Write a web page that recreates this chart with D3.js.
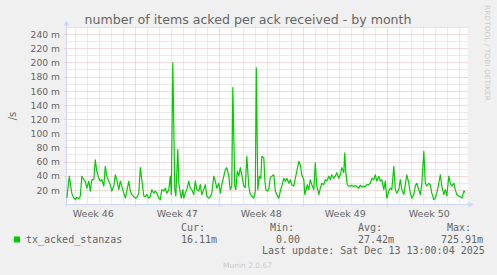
<!DOCTYPE html>
<html><head><meta charset="utf-8">
<script src="https://cdn.jsdelivr.net/npm/d3@7"></script>
<style>html,body{margin:0;padding:0;background:#f0f0f0}svg{display:block}</style>
</head><body><svg id="c" width="497" height="275"></svg>
<script>
// ---------- data ----------
const chartTitle = "number of items acked per ack received - by month";
const yAxisLabel = "/s";
const seriesName = "tx_acked_stanzas";
const yTickValues = [20, 40, 60, 80, 100, 120, 140, 160, 180, 200, 220, 240]; // milli per second
const yTickUnit = " m";
const weekLabelPrefix = "Week ";
const legendStats = [["Cur:", "16.11m"], ["Min:", "0.00"], ["Avg:", "27.42m"], ["Max:", "725.91m"]];
const lastUpdate = "Last update: Sat Dec 13 13:00:04 2025";
const watermark = "RRDTOOL / TOBI OETIKER";
const footer = "Munin 2.0.67";
// sample times: hours since 2025-11-11 00:00 UTC
const sampleHours = [
  7,12,17,21,24,27,31,34,37,41,44,47,51,54,57,61,64,67,71,74,77,81,84,87,91,94,97,101,104,107,
  111,114,117,121,124,127,131,134,137,141,144,147,151,154,157,161,164,167,171,174,177,181,184,187,191,194,197,
  201,204,207,211,214,216,219,223,225,229,231,234,236,239,241,244,247,251,254,257,261,264,267,271,274,277,
  281,284,287,291,294,297,301,304,307,311,314,317,321,324,327,331,334,337,339,343,345,348,351,354,357,361,
  364,367,371,374,377,381,384,386,389,392,395,397,401,403,405,408,411,414,417,421,424,427,431,434,437,441,
  444,447,451,454,457,461,464,467,471,474,477,481,483,485,488,491,494,497,501,504,507,511,514,517,521,524,
  527,531,534,537,541,544,547,551,554,557,561,563,565,568,571,574,577,581,584,587,591,594,597,601,604,607,
  611,614,617,621,624,627,631,634,637,641,644,647,651,654,657,661,664,667,671,674,677,681,684,687,691,694,
  697,701,704,707,711,714,717,721,724,727,731,734,737,741,744,747,751,754,757,761,764,767,771,774,777,781,
  784,787,791,794,797,801,804
];
// values in milli-items per second
const sampleValues = [
  9,40,16,9,7,10,8,12,40,35,33,23,33,19,35,35,63,47,37,33,35,26,54,40,33,28,19,26,42,35,
  21,33,26,16,9,19,33,19,14,11,9,10,16,52,35,12,11,14,9,11,21,16,19,16,9,7,21,
  19,23,16,21,40,14,200,21,12,78,30,16,9,21,9,16,21,33,23,21,14,33,21,19,28,14,
  21,28,12,9,11,16,40,33,23,30,16,28,40,49,52,40,21,26,165,26,21,47,40,52,42,26,
  24,68,26,14,12,9,19,193,21,40,37,68,66,35,21,19,21,38,40,42,19,14,9,19,26,37,
  33,37,30,35,28,26,37,47,61,56,42,35,14,19,28,21,35,28,21,59,26,14,23,30,28,35,
  33,40,35,42,37,40,45,37,42,52,45,73,45,28,26,26,27,25,27,25,23,27,25,26,25,28,
  28,30,37,35,42,33,40,33,35,21,33,9,19,23,21,54,21,16,21,35,21,14,28,42,30,16,
  9,14,26,30,21,14,28,75,30,26,30,28,16,7,9,16,30,42,26,14,21,12,40,30,26,30,
  21,14,12,11,9,19,17
];

// ---------- layout ----------
const W = 497, H = 275;
const plotLeft = 66.5, plotRight = 466.5, plotTop = 27.5, plotBottom = 204.5;
const base = Date.UTC(2025, 10, 11, 0, 0, 0);
const HOUR = 3600e3;
const svg = d3.select("#c");
const fontSans = "'DejaVu Sans', sans-serif";
const fontMono = "'DejaVu Sans Mono', monospace";
const textColor = "#666666";

const x = d3.scaleUtc()
  .domain([new Date(base + 6.4 * HOUR), new Date(base + 806.4 * HOUR)])
  .range([plotLeft, plotRight]);
const y = d3.scaleLinear().domain([0, 250]).range([plotBottom, plotTop]);

const data = sampleHours.map((h, i) => ({ t: new Date(base + h * HOUR), v: sampleValues[i] }));

svg.append("rect").attr("width", W).attr("height", H).attr("fill", "#f0f0f0");
svg.append("rect").attr("x", plotLeft).attr("y", plotTop)
  .attr("width", plotRight - plotLeft + 1).attr("height", plotBottom - plotTop).attr("fill", "#ffffff");

const crisp = v => Math.floor(v) + 0.5;
const grid = svg.append("g");
const [d0, d1] = x.domain();
const days = d3.utcDay.range(d0, d1);
const mondays = d3.utcMonday.range(d0, d1);
const isMonday = d => d.getUTCDay() === 1;
const minorColor = "#d4d4d4", majorColor = "#e8b4b4";

// minor horizontal grid
const minorY = d3.range(10, 251, 10).filter(v => v % 20 !== 0);
grid.selectAll(".hmin").data(minorY).join("line")
  .attr("x1", plotLeft).attr("x2", plotRight + 2)
  .attr("y1", d => crisp(y(d))).attr("y2", d => crisp(y(d)))
  .attr("stroke", minorColor).attr("stroke-dasharray", "1,1");
// minor vertical grid (days)
grid.selectAll(".vmin").data(days.filter(d => !isMonday(d))).join("line")
  .attr("x1", d => crisp(x(d))).attr("x2", d => crisp(x(d)))
  .attr("y1", plotTop).attr("y2", plotBottom)
  .attr("stroke", minorColor).attr("stroke-dasharray", "1,1");
// major horizontal grid
grid.selectAll(".hmaj").data(yTickValues).join("line")
  .attr("x1", plotLeft - 2).attr("x2", plotRight + 2)
  .attr("y1", d => crisp(y(d))).attr("y2", d => crisp(y(d)))
  .attr("stroke", majorColor).attr("stroke-dasharray", "1,1");
// major vertical grid (weeks)
grid.selectAll(".vmaj").data(mondays).join("line")
  .attr("x1", d => crisp(x(d))).attr("x2", d => crisp(x(d)))
  .attr("y1", plotTop).attr("y2", plotBottom + 2)
  .attr("stroke", majorColor).attr("stroke-dasharray", "1,1");

// y tick labels
svg.append("g").selectAll("text").data(yTickValues).join("text")
  .attr("x", 60).attr("y", d => y(d) + 3.3)
  .attr("text-anchor", "end").attr("font-family", fontSans).attr("font-size", 9.2)
  .attr("fill", textColor).text(d => d + yTickUnit);

// x labels: centred mid-week
const weekMids = d3.utcMonday.range(d3.utcMonday.offset(d0, -1), d1)
  .map(m => new Date(+m + 3.5 * 24 * HOUR))
  .filter(m => m >= d0 && m <= d1);
const fmtWeek = d3.utcFormat("%V");
svg.append("g").selectAll("text").data(weekMids).join("text")
  .attr("x", d => x(d)).attr("y", 216.5).attr("text-anchor", "middle")
  .attr("font-family", fontSans).attr("font-size", 9.5).attr("fill", textColor)
  .text(d => weekLabelPrefix + fmtWeek(d));

// axes
const axisColor = "#cfd6f8";
svg.append("line").attr("x1", plotLeft - 2).attr("x2", plotRight + 3)
  .attr("y1", crisp(plotBottom)).attr("y2", crisp(plotBottom)).attr("stroke", axisColor);
svg.append("line").attr("x1", crisp(plotLeft)).attr("x2", crisp(plotLeft))
  .attr("y1", plotBottom + 2).attr("y2", plotTop - 3).attr("stroke", axisColor);
svg.append("path").attr("fill", axisColor)
  .attr("d", `M${plotRight + 2},${crisp(plotBottom) - 3}L${plotRight + 7},${crisp(plotBottom)}L${plotRight + 2},${crisp(plotBottom) + 3}Z`);
svg.append("path").attr("fill", axisColor)
  .attr("d", `M${crisp(plotLeft) - 3},${plotTop - 2}L${crisp(plotLeft)},${plotTop - 7}L${crisp(plotLeft) + 3},${plotTop - 2}Z`);

// series line
const line = d3.line().x(d => x(d.t)).y(d => y(d.v));
svg.append("path").datum(data).attr("d", line)
  .attr("fill", "none").attr("stroke", "#00cc00").attr("stroke-width", 1.2)
  .attr("stroke-linejoin", "round");

// title
svg.append("text").attr("x", 248).attr("y", 24).attr("text-anchor", "middle")
  .attr("font-family", fontSans).attr("font-size", 12.5).attr("fill", textColor)
  .attr("textLength", 327).attr("lengthAdjust", "spacingAndGlyphs").text(chartTitle);

// y axis label
svg.append("text").attr("transform", "translate(16,116) rotate(-90)")
  .attr("text-anchor", "middle").attr("font-family", fontSans).attr("font-size", 10)
  .attr("fill", textColor).text(yAxisLabel);

// watermark
svg.append("text").attr("transform", "translate(485,5) rotate(90)")
  .attr("text-anchor", "start").attr("font-family", fontSans).attr("font-size", 7)
  .attr("fill", "#cccccc").attr("textLength", 96).attr("lengthAdjust", "spacingAndGlyphs")
  .text(watermark);

// legend
svg.append("rect").attr("x", 14).attr("y", 236.5).attr("width", 6).attr("height", 6).attr("fill", "#00cc00");
svg.append("text").attr("x", 26).attr("y", 242.5).attr("font-family", fontMono).attr("font-size", 10)
  .attr("fill", textColor).text(seriesName);
const statPos = [[181, 181], [270, 276], [358, 358], [447, 441]];
const legendG = svg.append("g").attr("font-family", fontMono).attr("font-size", 10).attr("fill", textColor);
legendStats.forEach((s, i) => {
  legendG.append("text").attr("x", statPos[i][0]).attr("y", 231).text(s[0]);
  legendG.append("text").attr("x", statPos[i][1]).attr("y", 242.5).text(s[1]);
});
legendG.append("text").attr("x", 262).attr("y", 254).text(lastUpdate);

svg.append("text").attr("x", 247.5).attr("y", 267.5).attr("text-anchor", "middle")
  .attr("font-family", fontSans).attr("font-size", 7.5).attr("fill", "#cccccc").text(footer);
</script></body></html>
